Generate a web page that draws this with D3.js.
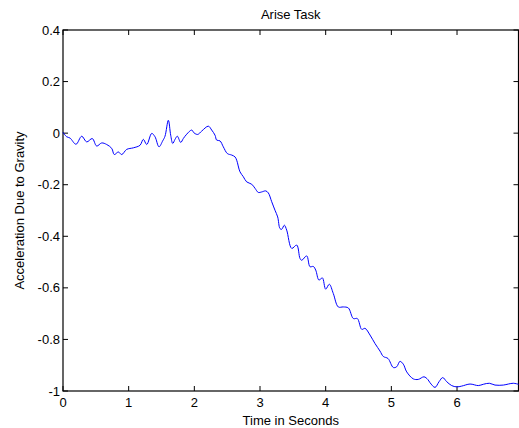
<!DOCTYPE html>
<html>
<head>
<meta charset="utf-8">
<script src="https://cdn.jsdelivr.net/npm/d3@7"></script>
<style>
  html, body { margin: 0; padding: 0; background: #fff; }
  svg { display: block; }
  text { font-family: "Liberation Sans", Arial, sans-serif; fill: #000; }
</style>
</head>
<body>
<svg id="chart" width="519" height="428"></svg>
<script>
// Time (s) of each sample of the vertical acceleration trace
const time = [0, 0.056, 0.107, 0.198, 0.285, 0.361, 0.446, 0.513, 0.589, 0.665, 0.742, 0.781, 0.842, 0.894, 0.970,
  1.071, 1.173, 1.223, 1.275, 1.351, 1.401, 1.462, 1.518, 1.553, 1.604, 1.640, 1.671, 1.706, 1.741, 1.792, 1.832, 1.884, 1.960,
  1.995, 2.051, 2.112, 2.213, 2.264, 2.315, 2.340, 2.391, 2.441, 2.502, 2.569, 2.619, 2.645, 2.695, 2.746, 2.797, 2.873, 2.924, 2.974,
  3.026, 3.087, 3.127, 3.178, 3.228, 3.269, 3.304, 3.330, 3.370, 3.406, 3.483, 3.559, 3.609, 3.635, 3.711, 3.761, 3.812, 3.848, 3.898, 3.949,
  4.000, 4.055, 4.116, 4.192, 4.268, 4.345, 4.421, 4.482, 4.549, 4.599, 4.675, 4.751, 4.827, 4.877, 4.949,
  5.030, 5.081, 5.131, 5.182, 5.234, 5.334, 5.410, 5.497, 5.554, 5.589, 5.665, 5.726, 5.782, 5.843, 5.919, 5.995,
  6.071, 6.198, 6.324, 6.400, 6.492, 6.578, 6.705, 6.781, 6.857, 6.936];

// Acceleration in units of g
const accel = [0.003, -0.014, -0.019, -0.043, -0.012, -0.034, -0.021, -0.050, -0.038, -0.044, -0.059, -0.083, -0.073, -0.083, -0.063,
  -0.057, -0.047, -0.024, -0.044, -0.001, -0.014, -0.053, -0.030, -0.012, 0.050, -0.008, -0.040, -0.024, -0.012, -0.036, -0.021, -0.004, 0.012,
  0.001, -0.005, 0.008, 0.027, 0.012, -0.008, -0.027, -0.030, -0.053, -0.079, -0.085, -0.092, -0.105, -0.150, -0.169, -0.189, -0.198, -0.214, -0.230,
  -0.228, -0.224, -0.232, -0.266, -0.299, -0.325, -0.370, -0.373, -0.357, -0.376, -0.447, -0.434, -0.486, -0.493, -0.476, -0.518, -0.517, -0.531, -0.570, -0.561,
  -0.605, -0.586, -0.622, -0.674, -0.674, -0.678, -0.719, -0.719, -0.761, -0.757, -0.783, -0.816, -0.845, -0.866, -0.874,
  -0.909, -0.906, -0.885, -0.896, -0.926, -0.953, -0.955, -0.945, -0.955, -0.968, -0.986, -0.964, -0.948, -0.964, -0.979, -0.984,
  -0.981, -0.973, -0.979, -0.974, -0.970, -0.977, -0.977, -0.973, -0.970, -0.974];

const xTicks = [0, 1, 2, 3, 4, 5, 6];
const xTickLabels = ["0", "1", "2", "3", "4", "5", "6"];
const yTicks = [-1, -0.8, -0.6, -0.4, -0.2, 0, 0.2, 0.4];
const yTickLabels = ["-1", "-0.8", "-0.6", "-0.4", "-0.2", "0", "0.2", "0.4"];

const titleText = "Arise Task";
const xLabelText = "Time in Seconds";
const yLabelText = "Acceleration Due to Gravity";

const svg = d3.select("#chart");
const plotLeft = 63, plotRight = 518.5, plotTop = 30, plotBottom = 391;

const x = d3.scaleLinear().domain([0, 6.936]).range([plotLeft, plotRight]);
const y = d3.scaleLinear().domain([-1, 0.4]).range([plotBottom, plotTop]);

const fontSize = "13px";
const tickLen = 5;

// plot box
svg.append("rect")
  .attr("x", plotLeft).attr("y", plotTop)
  .attr("width", plotRight - plotLeft).attr("height", plotBottom - plotTop)
  .attr("fill", "none").attr("stroke", "#000").attr("stroke-width", 1.2);

// ticks pointing inward on all four sides
const g = svg.append("g").attr("stroke", "#000").attr("stroke-width", 1);
xTicks.forEach(t => {
  const px = x(t);
  g.append("line").attr("x1", px).attr("x2", px).attr("y1", plotBottom).attr("y2", plotBottom - tickLen);
  g.append("line").attr("x1", px).attr("x2", px).attr("y1", plotTop).attr("y2", plotTop + tickLen);
});
yTicks.forEach(v => {
  const py = y(v);
  g.append("line").attr("x1", plotLeft).attr("x2", plotLeft + tickLen).attr("y1", py).attr("y2", py);
  g.append("line").attr("x1", plotRight).attr("x2", plotRight - tickLen).attr("y1", py).attr("y2", py);
});

// tick labels
svg.append("g").selectAll("text").data(xTicks).join("text")
  .attr("x", d => x(d)).attr("y", plotBottom + 16)
  .attr("text-anchor", "middle").style("font-size", fontSize)
  .text((d, i) => xTickLabels[i]);

svg.append("g").selectAll("text").data(yTicks).join("text")
  .attr("x", plotLeft - 3).attr("y", d => y(d)).attr("dy", "0.35em")
  .attr("text-anchor", "end").style("font-size", fontSize)
  .text((d, i) => yTickLabels[i]);

// data trace
const line = d3.line()
  .x((d, i) => x(time[i]))
  .y(d => y(d))
  .curve(d3.curveCatmullRom.alpha(0.5));

svg.append("path")
  .datum(accel)
  .attr("d", line)
  .attr("fill", "none")
  .attr("stroke", "#0000ff")
  .attr("stroke-width", 1);

// title and axis labels
svg.append("text")
  .attr("x", (plotLeft + plotRight) / 2).attr("y", 19)
  .attr("text-anchor", "middle").style("font-size", fontSize)
  .text(titleText);

svg.append("text")
  .attr("x", (plotLeft + plotRight) / 2).attr("y", 425)
  .attr("text-anchor", "middle").style("font-size", fontSize)
  .text(xLabelText);

svg.append("text")
  .attr("transform", `translate(24, ${(plotTop + plotBottom) / 2}) rotate(-90)`)
  .attr("text-anchor", "middle").style("font-size", fontSize)
  .text(yLabelText);
</script>
</body>
</html>
